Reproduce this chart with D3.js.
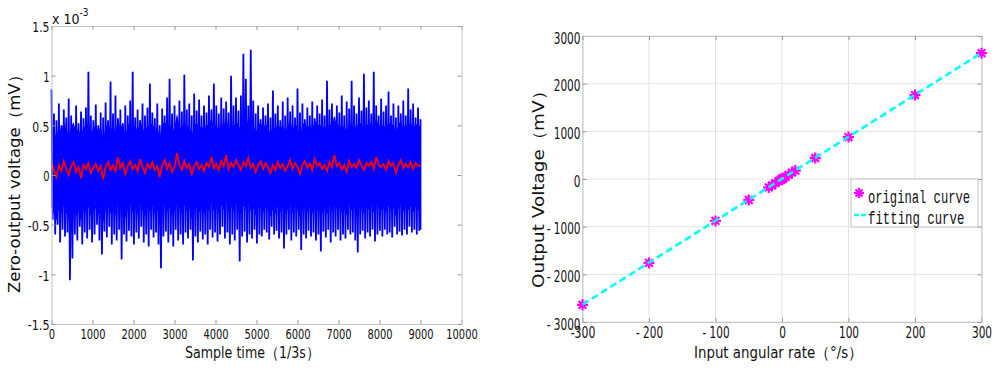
<!DOCTYPE html>
<html>
<head>
<meta charset="utf-8">
<script src="https://cdn.jsdelivr.net/npm/d3@7"></script>
<style>
  html, body { margin: 0; padding: 0; background: #fff; }
  svg { display: block; }
</style>
</head>
<body>
<svg id="chart" width="1000" height="372"></svg>
<script>
// ---------- LEFT CHART DATA (units: 1e-3 mV) ----------
// Upper / lower envelope of the zero-output noise, read in bins of 60 samples (0..9000)
const noiseUpper = [0.86,0.62,0.55,0.72,0.5,0.66,0.58,0.77,0.6,0.48,0.7,0.52,0.64,0.57,0.68,1.04,0.6,0.55,0.71,0.5,
  0.63,0.58,0.73,0.55,0.94,0.62,0.8,0.57,0.66,0.52,0.7,0.6,0.75,1.04,0.58,0.66,0.55,0.72,0.6,0.68,
  0.92,0.63,0.57,0.72,0.5,0.67,0.6,0.78,0.97,0.62,0.7,0.58,0.75,0.64,1.01,0.66,0.72,0.6,0.82,0.65,
  0.76,0.6,0.7,0.63,0.8,0.66,0.92,0.7,0.62,0.78,0.67,0.74,0.63,1.0,0.7,0.78,0.65,0.8,1.22,0.97,
  0.7,1.26,0.75,0.62,0.7,0.56,0.68,0.6,0.72,0.58,0.85,0.62,0.7,0.55,0.74,0.6,0.78,0.64,0.7,0.58,
  0.87,0.63,0.72,0.56,0.68,0.6,0.74,0.57,0.7,0.62,0.76,0.6,0.95,0.66,0.72,0.58,0.7,0.63,0.8,0.6,
  0.74,0.67,0.95,0.7,0.62,0.78,0.65,1.02,0.68,0.75,0.62,1.04,0.7,0.6,0.77,0.64,0.7,0.84,0.6,0.72,
  0.58,0.7,0.62,0.75,0.6,0.87,0.66,0.72,0.58,0.68,0.56];
const noiseLower = [-0.45,-0.6,-0.5,-0.68,-0.55,-0.62,-0.58,-1.06,-0.84,-0.6,-0.66,-0.52,-0.7,-0.58,-0.64,-0.55,-0.68,-0.6,-0.5,-0.66,
  -0.8,-0.57,-0.63,-0.52,-0.7,-0.6,-0.66,-0.55,-0.85,-0.6,-0.67,-0.56,-0.62,-0.7,-0.58,-0.64,-0.52,-0.68,-0.6,-0.72,
  -0.55,-0.63,-0.58,-0.7,-0.94,-0.62,-0.57,-0.68,-0.6,-0.72,-0.55,-0.66,-0.6,-0.7,-0.58,-0.64,-0.55,-0.86,-0.62,-0.68,
  -0.57,-0.65,-0.6,-0.7,-0.55,-0.63,-0.58,-0.67,-0.6,-0.52,-0.64,-0.58,-0.7,-0.6,-0.66,-0.55,-0.87,-0.62,-0.57,-0.68,
  -0.6,-0.64,-0.55,-0.69,-0.6,-0.62,-0.55,-0.58,-0.65,-0.52,-0.6,-0.56,-0.64,-0.58,-0.74,-0.6,-0.55,-0.66,-0.58,-0.62,
  -0.55,-0.755,-0.6,-0.64,-0.56,-0.62,-0.58,-0.66,-0.6,-0.77,-0.57,-0.63,-0.55,-0.68,-0.58,-0.62,-0.55,-0.66,-0.6,-0.64,
  -0.55,-0.6,-0.58,-0.66,-0.78,-0.6,-0.56,-0.64,-0.58,-0.62,-0.55,-0.67,-0.6,-0.56,-0.62,-0.55,-0.6,-0.58,-0.63,-0.52,
  -0.6,-0.57,-0.61,-0.55,-0.6,-0.52,-0.58,-0.55,-0.6,-0.56,-0.55];
// Smoothed (red) curve, sampled every 60 samples
const smoothed = [0.12,0.05,-0.02,0.1,0.04,0.14,0.06,0.0,0.09,0.13,0.03,0.08,-0.03,0.1,0.06,0.12,0.02,0.07,0.11,0.04,
  0.09,-0.04,0.08,0.13,0.05,0.1,0.03,0.18,0.07,0.12,0.01,0.09,0.14,0.06,0.1,0.04,0.16,0.08,0.02,0.11,
  0.07,0.13,0.05,0.09,-0.02,0.1,0.15,0.06,0.12,0.03,0.08,0.22,0.1,0.05,0.14,0.07,0.11,0.0,0.09,0.13,
  0.06,0.1,0.04,0.12,0.08,0.18,0.07,0.11,0.05,0.14,0.09,0.2,0.06,0.12,0.08,0.15,0.1,0.05,0.13,0.09,
  0.17,0.07,0.11,0.03,0.1,0.14,0.06,0.12,0.08,0.02,0.1,0.05,0.13,0.07,0.11,0.04,0.09,0.15,0.06,0.12,
  0.08,0.01,0.1,0.14,0.07,0.11,0.05,0.16,0.09,0.12,0.06,0.1,0.04,0.13,0.08,0.2,0.09,0.12,0.06,0.1,
  0.03,0.14,0.08,0.11,0.07,0.15,0.1,0.05,0.12,0.09,0.13,0.06,0.18,0.1,0.08,0.11,0.05,0.14,0.09,0.12,
  0.02,0.1,0.15,0.07,0.11,0.08,0.13,0.06,0.12,0.09,0.1];
const sampleEnd = 9000;
const leftXTicks = [0,1000,2000,3000,4000,5000,6000,7000,8000,9000,10000];
const leftYTicks = [-1.5,-1,-0.5,0,0.5,1,1.5];
const leftYLabels = ["-1.5","-1","-0.5","0","0.5","1","1.5"];

// ---------- RIGHT CHART DATA ----------
const inputRate = [-300,-200,-100,-50,-20,-15,-10,-5,-2,-1,0,1,2,5,10,15,20,50,100,200,300];
const outputVolt = [-2640,-1760,-880,-440,-176,-132,-88,-44,-18,-9,0,9,18,44,88,132,176,440,880,1760,2640];
const fitX = [-300, 300];
const fitY = [-2635, 2645];
const rightXTicks = [-300,-200,-100,0,100,200,300];
const rightXLabels = ["-300","- 200","- 100","0","100","200","300"];
const rightYTicks = [-3000,-2000,-1000,0,1000,2000,3000];
const rightYLabels = ["- 3000","- 2000","- 1000","0","1000","2000","3000"];

const svg = d3.select("#chart");
const tickFont = "'DejaVu Sans Condensed','Liberation Sans',sans-serif";
const boxColor = "#c4c4c4";

function drawFrame(g, x, y, xTicks, yTicks, xLabels, yLabels, opt) {
  const [x0, x1] = x.range();
  const [y0, y1] = y.range(); // y0 bottom, y1 top
  const charW = {"-": 4.6, " ": 2.4, ".": 4.6};
  const labelWidth = s => Array.from(s).reduce((a, c) => a + (charW[c] !== undefined ? charW[c] : opt.digitW), 0);
  if (opt.grid) {
    g.append("g").selectAll("line").data(xTicks).join("line")
      .attr("x1", d => x(d)).attr("x2", d => x(d)).attr("y1", y0).attr("y2", y1)
      .attr("stroke", "#e3e3e3").attr("stroke-width", 1);
    g.append("g").selectAll("line").data(yTicks).join("line")
      .attr("y1", d => y(d)).attr("y2", d => y(d)).attr("x1", x0).attr("x2", x1)
      .attr("stroke", "#e3e3e3").attr("stroke-width", 1);
  }
  const ax = d3.axisBottom(x).tickValues(xTicks).tickSizeInner(-4).tickSizeOuter(0).tickPadding(opt.xPad)
    .tickFormat((d, i) => xLabels[i]);
  const ay = d3.axisLeft(y).tickValues(yTicks).tickSizeInner(-4).tickSizeOuter(0).tickPadding(2)
    .tickFormat((d, i) => yLabels[i]);
  const axT = d3.axisTop(x).tickValues(xTicks).tickSizeInner(-4).tickSizeOuter(0).tickFormat("");
  const ayR = d3.axisRight(y).tickValues(yTicks).tickSizeInner(-4).tickSizeOuter(0).tickFormat("");
  const gx = g.append("g").attr("transform", `translate(0,${y0})`).call(ax);
  const gy = g.append("g").attr("transform", `translate(${x0},0)`).call(ay);
  const gt = g.append("g").attr("transform", `translate(0,${y1})`).call(axT);
  const gr = g.append("g").attr("transform", `translate(${x1},0)`).call(ayR);
  gy.selectAll("text").attr("y", opt.yShift);
  [gx, gy, gt, gr].forEach(a => {
    a.select(".domain").attr("stroke", boxColor);
    a.selectAll(".tick line").attr("stroke", "#999");
    a.selectAll("text").attr("font-family", tickFont).attr("font-size", opt.fontSize).attr("fill", "#111")
      .each(function () {
        const s = this.textContent;
        if (s.length > 0) {
          this.setAttribute("textLength", labelWidth(s));
          this.setAttribute("lengthAdjust", "spacingAndGlyphs");
        }
      });
  });
}

function scaledText(g, x, y, sx, txt, size, family) {
  const t = g.append("g").attr("transform", `translate(${x},${y}) scale(${sx},1)`);
  return t.append("text").attr("font-family", family).attr("font-size", size).attr("fill", "#111").text(txt);
}

// ================= LEFT CHART =================
const xL = d3.scaleLinear().domain([0, 10000]).range([51.5, 461.5]);
const yL = d3.scaleLinear().domain([-1.5, 1.5]).range([324, 26]);
const gL = svg.append("g");

// solid core of the dense noise band (centred on the smoothed curve)
const coreAbove = 0.4, coreBelow = 0.44;
const binW = sampleEnd / (noiseUpper.length - 1);
gL.append("path")
  .attr("d", d3.area().x((d, i) => xL(i * binW))
    .y1((d) => yL(d + coreAbove)).y0((d) => yL(d - coreBelow))(smoothed))
  .attr("fill", "#0000ff");

// blue noise spikes: zig-zag between upper and lower envelope values
const noisePts = [];
noiseUpper.forEach((u, i) => {
  noisePts.push([xL(i * binW), yL(u)]);
  noisePts.push([xL(Math.min(sampleEnd, i * binW + binW / 2)), yL(noiseLower[i])]);
});
gL.append("path").attr("d", d3.line()(noisePts))
  .attr("fill", "none").attr("stroke", "#0000ff").attr("stroke-width", 1.8);

const redW = sampleEnd / (smoothed.length - 1);
gL.append("path")
  .attr("d", d3.line().x((d, i) => xL(i * redW)).y(d => yL(d))(smoothed))
  .attr("fill", "none").attr("stroke", "#ff0000").attr("stroke-width", 1.8);

drawFrame(gL, xL, yL, leftXTicks, leftYTicks, leftXTicks.map(String), leftYLabels,
  {grid: false, fontSize: 14, digitW: 6.3, xPad: 5, yShift: 1.5});

// exponent label
const expT = gL.append("text").attr("x", 52).attr("y", 24)
  .attr("font-family", "'DejaVu Sans Condensed','DejaVu Sans',sans-serif").attr("font-size", 14).attr("fill", "#111");
expT.append("tspan").text("x 10");
expT.append("tspan").attr("dy", -8).attr("font-size", 10).text("-3");

gL.append("text").attr("transform", "translate(20,180) rotate(-90)")
  .attr("text-anchor", "middle").attr("font-family", "'DejaVu Sans',sans-serif").attr("font-size", 16)
  .attr("textLength", 226).attr("lengthAdjust", "spacingAndGlyphs").attr("fill", "#111")
  .text("Zero-output voltage（mV）");
gL.append("text").attr("x", 185).attr("y", 358)
  .attr("font-family", tickFont).attr("font-size", 16)
  .attr("textLength", 135).attr("lengthAdjust", "spacingAndGlyphs").attr("fill", "#111")
  .text("Sample time（1/3s）");

// ================= RIGHT CHART =================
const xR = d3.scaleLinear().domain([-300, 300]).range([582.5, 981.5]);
const yR = d3.scaleLinear().domain([-3000, 3000]).range([322, 36]);
const gR = svg.append("g");

drawFrame(gR, xR, yR, rightXTicks, rightYTicks, rightXLabels, rightYLabels,
  {grid: true, fontSize: 16, digitW: 6.7, xPad: 5, yShift: 2});

// markers (asterisk)
const starPath = (r) => {
  const d = r * Math.SQRT1_2;
  return `M${-r},0L${r},0M0,${-r}L0,${r}M${-d},${-d}L${d},${d}M${-d},${d}L${d},${-d}`;
};
const pts = inputRate.map((v, i) => [v, outputVolt[i]]);
gR.append("g").selectAll("path").data(pts).join("path")
  .attr("transform", d => `translate(${xR(d[0])},${yR(d[1])})`)
  .attr("d", starPath(5.5))
  .attr("stroke", "#ff00ff").attr("stroke-width", 2.2).attr("fill", "none");

// fitting line
gR.append("path")
  .attr("d", d3.line().x(d => xR(d[0])).y(d => yR(d[1]))(fitX.map((v, i) => [v, fitY[i]])))
  .attr("stroke", "#00ffff").attr("stroke-width", 2.6).attr("stroke-dasharray", "7,4").attr("fill", "none");

// legend
const lg = gR.append("g");
lg.append("rect").attr("x", 851).attr("y", 179).attr("width", 127).attr("height", 48)
  .attr("fill", "#fff").attr("stroke", "#c4c4c4");
lg.append("path").attr("transform", "translate(859,193)").attr("d", starPath(5))
  .attr("stroke", "#ff00ff").attr("stroke-width", 2.2).attr("fill", "none");
lg.append("line").attr("x1", 854).attr("x2", 867).attr("y1", 215).attr("y2", 215)
  .attr("stroke", "#00ffff").attr("stroke-width", 2.4).attr("stroke-dasharray", "5,2");
const monoFont = "'Liberation Mono','DejaVu Sans Mono',monospace";
scaledText(lg, 868, 203, 0.64, "original curve", 19, monoFont);
scaledText(lg, 868, 224, 0.65, "fitting curve", 19, monoFont);

gR.append("text").attr("transform", "translate(544,185) rotate(-90)")
  .attr("text-anchor", "middle").attr("font-family", "'DejaVu Sans',sans-serif").attr("font-size", 16)
  .attr("textLength", 206).attr("lengthAdjust", "spacingAndGlyphs").attr("fill", "#111")
  .text("Output Voltage（mV）");
gR.append("text").attr("x", 694).attr("y", 358)
  .attr("font-family", tickFont).attr("font-size", 16)
  .attr("textLength", 169).attr("lengthAdjust", "spacingAndGlyphs").attr("fill", "#111")
  .text("Input angular rate（°/s）");
</script>
</body>
</html>
